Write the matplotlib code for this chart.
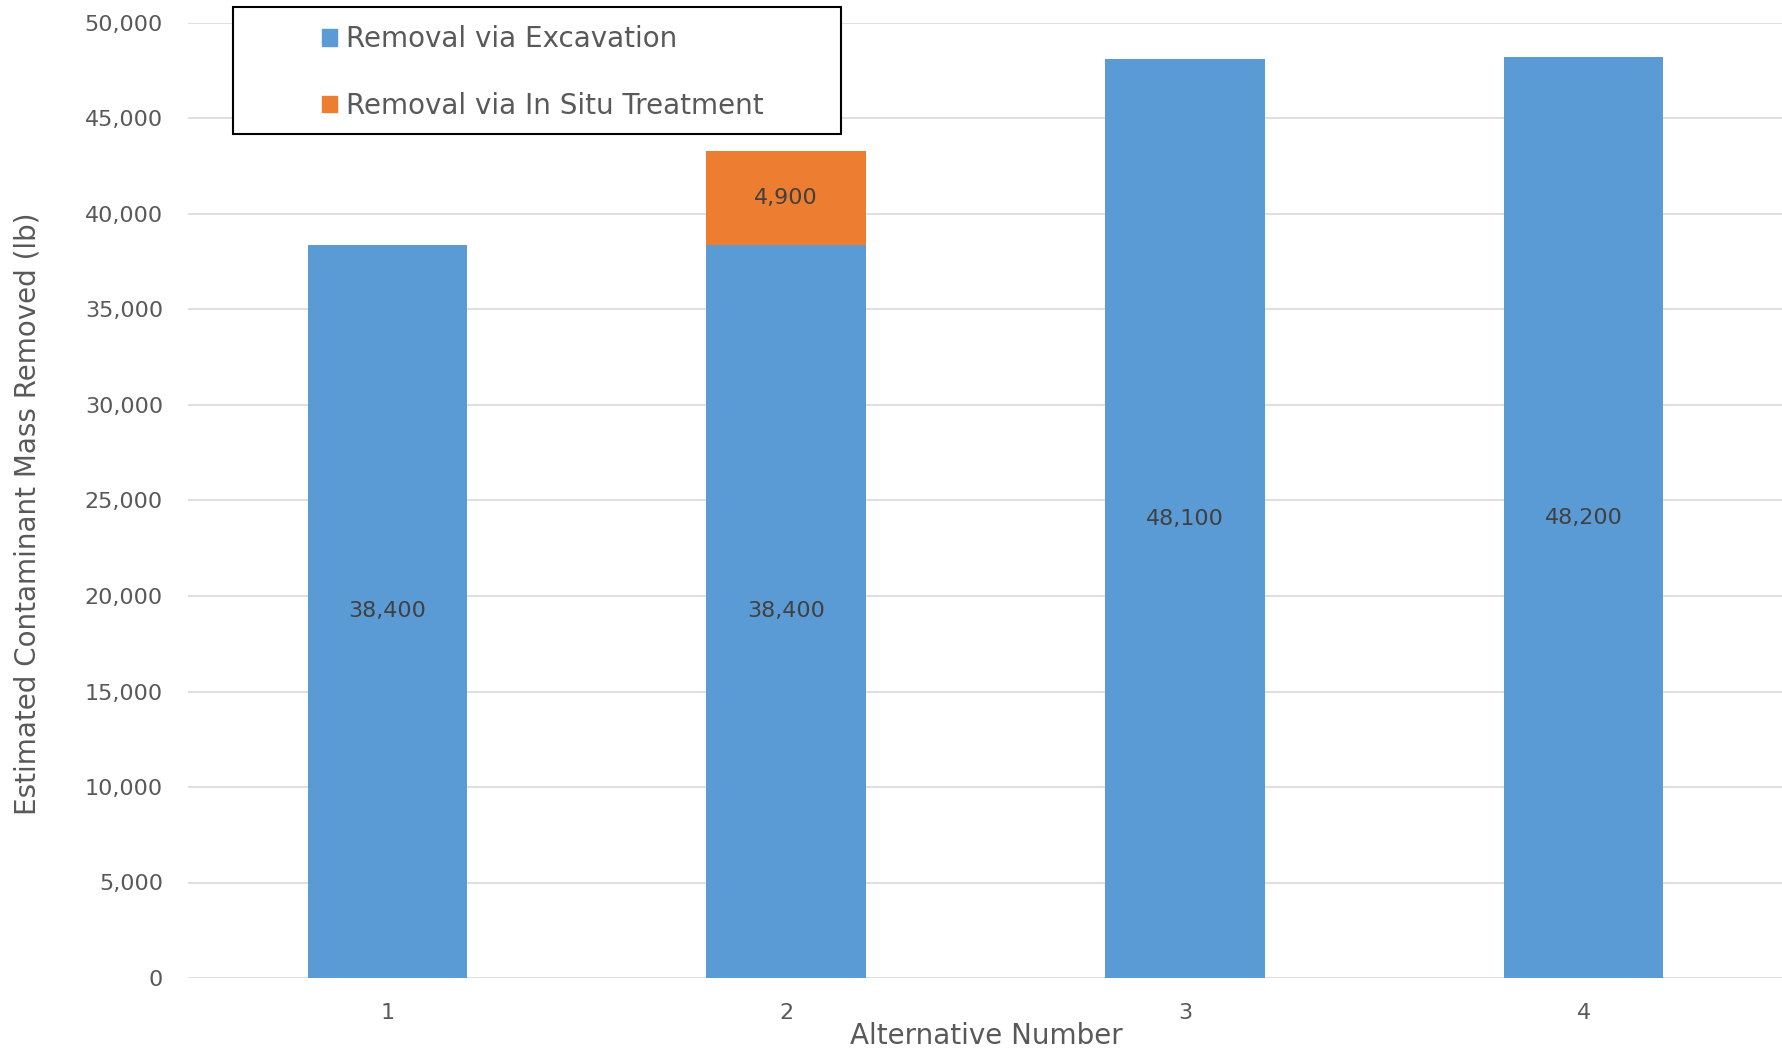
import matplotlib.pyplot as plt
from matplotlib.patches import Rectangle, Patch
import numpy as np

alternatives = ['1', '2', '3', '4']
excavation = [38400, 38400, 48100, 48200]
in_situ = [0, 4900, 0, 0]
series_names = ['Removal via Excavation', 'Removal via In Situ Treatment']
y_ticks = [0, 5000, 10000, 15000, 20000, 25000, 30000, 35000, 40000, 45000, 50000]

blue = '#5B9BD5'
orange = '#ED7D31'
plt.rcParams['font.family'] = ['DejaVu Sans']

W, H = 1783, 1052
fig = plt.figure(figsize=(W / 100, H / 100), dpi=100)
ax = fig.add_axes([188 / W, (H - 978) / H, 1 - 188 / W, (978 - 23) / H])

x = np.arange(len(alternatives))
ax.bar(x, excavation, width=0.4, color=blue, zorder=2)
ax.bar(x, in_situ, width=0.4, bottom=excavation, color=orange, zorder=2)

for i in range(len(x)):
    ax.text(x[i], excavation[i] / 2, f'{excavation[i]:,}', ha='center', va='center',
            fontsize=16, color='#404040', zorder=3)
    if in_situ[i] > 0:
        ax.text(x[i], excavation[i] + in_situ[i] / 2, f'{in_situ[i]:,}', ha='center', va='center',
                fontsize=16, color='#404040', zorder=3)

ax.set_xlim(-0.5, 3.5)
ax.set_ylim(0, 50000)
ax.set_yticks(y_ticks)
ax.set_yticklabels([f'{v:,}' for v in y_ticks])
ax.set_xticks(x)
ax.set_xticklabels(alternatives)
ax.tick_params(axis='both', length=0, labelsize=16, labelcolor='#595959')
ax.tick_params(axis='y', pad=18)
ax.tick_params(axis='x', pad=18)
ax.grid(axis='y', color='#D9D9D9', linewidth=1.2, zorder=0)
for s in ax.spines.values():
    s.set_visible(False)

fig.text(986 / W, 1 - 1036 / H, 'Alternative Number', ha='center', va='center',
         fontsize=20, color='#595959')
fig.text(28 / W, 1 - 514 / H, 'Estimated Contaminant Mass Removed (lb)', ha='center', va='center',
         rotation=90, fontsize=20, color='#595959')

# legend box
fig.patches.append(Rectangle((233 / W, 1 - 134 / H), (841 - 233) / W, (134 - 7) / H,
                             transform=fig.transFigure, facecolor='white', edgecolor='black',
                             linewidth=1.5, zorder=5))
handles = [Patch(color=blue), Patch(color=orange)]
leg = fig.legend(handles, series_names, loc='upper left', bbox_to_anchor=(322 / W, 1 - 25 / H),
                 frameon=False, fontsize=20, labelcolor='#595959', handlelength=0.55,
                 handleheight=0.55, handletextpad=0.3, labelspacing=1.4, borderpad=0,
                 borderaxespad=0)
leg.set_zorder(6)

fig.savefig('out.png', dpi=100)
